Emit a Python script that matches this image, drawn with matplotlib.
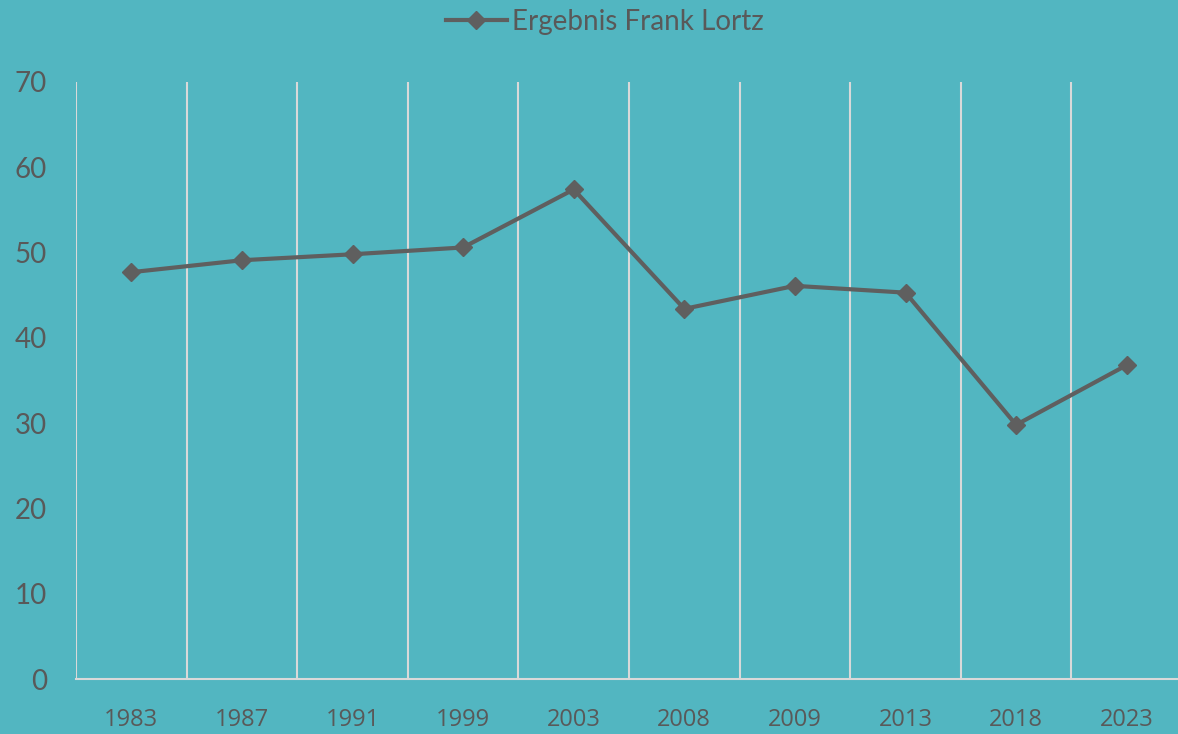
import matplotlib.pyplot as plt
from matplotlib.lines import Line2D

plt.rcParams['font.family'] = ['Lato', 'DejaVu Sans']

years = ["1983", "1987", "1991", "1999", "2003", "2008", "2009", "2013", "2018", "2023"]
result = [47.7, 49.1, 49.8, 50.6, 57.4, 43.4, 46.1, 45.3, 29.8, 36.8]

bg = "#52B6C1"
grey = "#595959"
grid = "#D9D9D9"

fig = plt.figure(figsize=(11.78, 7.34), dpi=100, facecolor=bg)
ax = fig.add_axes([76 / 1178, 1 - 679 / 734, (1182 - 76) / 1178, (679 - 82) / 734])
ax.set_facecolor(bg)

x = list(range(len(years)))
ax.plot(x, result, color="#5F5F5F", lw=3, marker="D", ms=9, zorder=3)

ax.set_xlim(-0.5, len(years) - 0.5)
ax.set_ylim(0, 70)
for b in range(len(years) + 1):
    ax.axvline(b - 0.5, color=grid, lw=1.5, zorder=1)

for s in ["top", "right", "left"]:
    ax.spines[s].set_visible(False)
ax.spines["bottom"].set_color(grid)
ax.spines["bottom"].set_linewidth(1.5)

ax.set_xticks(x)
ax.set_xticklabels(years, family=["Open Sans", "DejaVu Sans"])
ax.set_yticks(range(0, 71, 10))
ax.tick_params(axis="x", length=0, pad=21, labelsize=17, labelcolor=grey)
ax.tick_params(axis="y", length=0, pad=21, labelsize=20, labelcolor=grey)

handle = Line2D([], [], color="#5F5F5F", lw=3, marker="D", ms=9)
fig.legend([handle], ["Ergebnis Frank Lortz"], loc="center", bbox_to_anchor=(605 / 1178, 1 - 22 / 734),
           frameon=False, fontsize=20, labelcolor=grey, handlelength=2.2, handletextpad=0.2)

fig.savefig("out.png", dpi=100, facecolor=bg)
